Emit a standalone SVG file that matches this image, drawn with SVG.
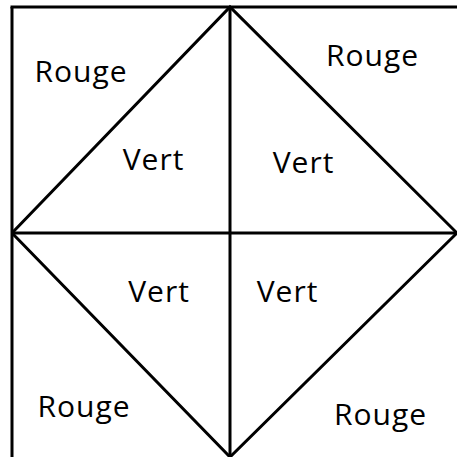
<svg xmlns="http://www.w3.org/2000/svg" width="457" height="457" viewBox="0 0 457 457">
<style>
.ln{stroke:#000;stroke-width:3;fill:none;stroke-linecap:butt}
.lb{font-family:"Open Sans","Noto Sans","DejaVu Sans",sans-serif;font-size:30px;letter-spacing:1px;fill:#000;text-anchor:middle}
</style>
<rect width="457" height="457" fill="#fff"/>
<g id="connectors">
<line class="ln" x1="12" y1="7" x2="12" y2="457"/>
<line class="ln" x1="10.5" y1="7" x2="457" y2="7"/>
<line class="ln" x1="230" y1="7" x2="230" y2="457"/>
<line class="ln" x1="12" y1="233" x2="457" y2="233"/>
<polyline class="ln" points="12,233 230,7 457,233"/>
<polyline class="ln" points="12,233 230,457 457,233"/>
</g>
<g id="rouge-tl"><text class="lb" x="81" y="82">Rouge</text></g>
<g id="rouge-tr"><text class="lb" x="372.5" y="66">Rouge</text></g>
<g id="vert-tl"><text class="lb" x="153.5" y="170">Vert</text></g>
<g id="vert-tr"><text class="lb" x="303.5" y="173">Vert</text></g>
<g id="vert-bl"><text class="lb" x="159" y="302">Vert</text></g>
<g id="vert-br"><text class="lb" x="287.5" y="302">Vert</text></g>
<g id="rouge-bl"><text class="lb" x="84" y="417">Rouge</text></g>
<g id="rouge-br"><text class="lb" x="380.5" y="425">Rouge</text></g>
</svg>
